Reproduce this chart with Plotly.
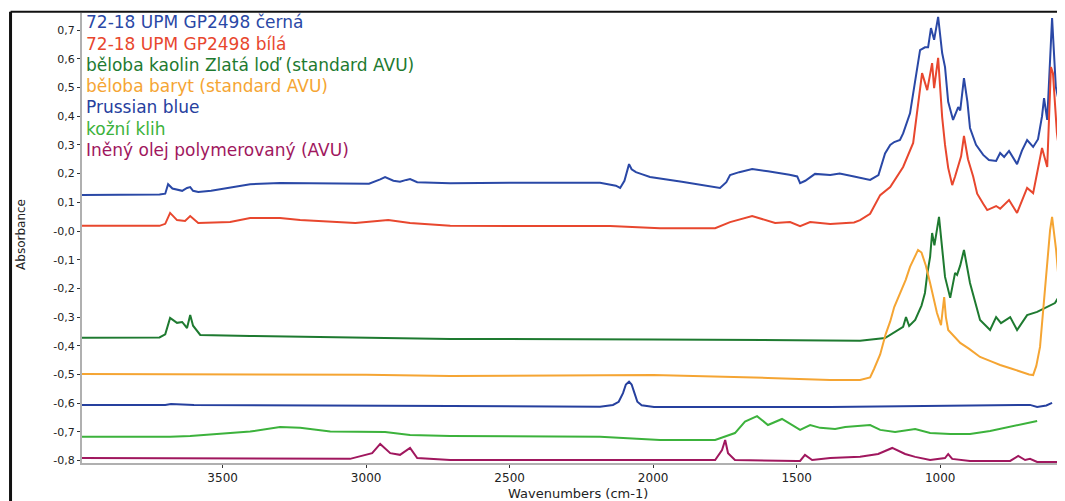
import plotly.graph_objects as go

# ---------------- data (wavenumber cm-1, absorbance) ----------------
cerna_wn = [3990, 3720, 3700, 3690, 3675, 3659, 3641, 3624, 3613, 3603, 3585, 3540, 3474, 3404, 3300, 3125,
            3038, 2990, 2951, 2934, 2905, 2882, 2860, 2847, 2822, 2707, 2500, 2185, 2130, 2115, 2100, 2084,
            2075, 2060, 2040, 2011, 1900, 1791, 1767, 1745, 1732, 1700, 1655, 1600, 1558, 1525, 1498, 1488,
            1470, 1436, 1383, 1350, 1300, 1244, 1215, 1192, 1174, 1160, 1140, 1129, 1105, 1087, 1070, 1053,
            1042, 1032, 1021, 1007, 993, 983, 972, 955, 937, 930, 917, 905, 896, 875, 850, 830, 805, 791, 777,
            760, 732, 715, 697, 676, 659, 645, 638, 627, 620, 610, 597, 580, 565]
cerna_abs = [0.125, 0.127, 0.130, 0.163, 0.148, 0.143, 0.140, 0.150, 0.153, 0.140, 0.136, 0.140, 0.150, 0.163,
             0.167, 0.167, 0.165, 0.165, 0.180, 0.188, 0.175, 0.172, 0.178, 0.181, 0.170, 0.166, 0.168, 0.168,
             0.158, 0.150, 0.175, 0.233, 0.215, 0.205, 0.198, 0.188, 0.172, 0.153, 0.150, 0.170, 0.195, 0.205,
             0.216, 0.208, 0.202, 0.196, 0.190, 0.167, 0.175, 0.199, 0.195, 0.200, 0.190, 0.178, 0.195, 0.270,
             0.300, 0.310, 0.317, 0.340, 0.410, 0.520, 0.630, 0.640, 0.640, 0.707, 0.666, 0.746, 0.620, 0.571,
             0.450, 0.387, 0.432, 0.420, 0.533, 0.450, 0.359, 0.300, 0.265, 0.247, 0.244, 0.272, 0.258, 0.279,
             0.233, 0.280, 0.317, 0.293, 0.320, 0.400, 0.463, 0.387, 0.550, 0.742, 0.502, 0.420, 0.456]

bila_wn = [3990, 3720, 3700, 3683, 3659, 3631, 3613, 3585, 3474, 3404, 3300, 3230, 3038, 2923, 2847, 2707,
           2150, 1976, 1784, 1732, 1655, 1575, 1523, 1488, 1453, 1383, 1300, 1279, 1244, 1209, 1174, 1129,
           1094, 1077, 1063, 1045, 1028, 1021, 1007, 993, 983, 972, 958, 948, 937, 927, 917, 903, 885, 871,
           850, 836, 805, 791, 760, 732, 697, 676, 645, 627, 614, 607, 593, 582, 575, 565]
bila_abs = [0.018, 0.018, 0.025, 0.063, 0.038, 0.035, 0.052, 0.028, 0.031, 0.045, 0.045, 0.038, 0.028, 0.038,
            0.028, 0.018, 0.017, 0.010, 0.010, 0.031, 0.052, 0.028, 0.031, 0.017, 0.031, 0.024, 0.030, 0.038,
            0.060, 0.125, 0.153, 0.223, 0.307, 0.440, 0.550, 0.491, 0.585, 0.498, 0.603, 0.397, 0.300, 0.220,
            0.160, 0.190, 0.230, 0.260, 0.331, 0.250, 0.190, 0.130, 0.095, 0.073, 0.087, 0.078, 0.108, 0.063,
            0.150, 0.132, 0.289, 0.223, 0.571, 0.550, 0.340, 0.258, 0.280, 0.360]

kaolin_wn = [3990, 3720, 3700, 3683, 3659, 3641, 3624, 3613, 3603, 3578, 3404, 3125, 2707, 2000, 1500, 1279,
             1192, 1129, 1119, 1108, 1087, 1065, 1053, 1045, 1035, 1028, 1020, 1004, 983, 965, 948, 941, 930,
             917, 896, 861, 826, 805, 788, 756, 732, 697, 662, 634, 600, 565]
kaolin_abs = [-0.372, -0.371, -0.360, -0.303, -0.320, -0.317, -0.338, -0.293, -0.330, -0.362, -0.366, -0.369,
              -0.376, -0.378, -0.380, -0.382, -0.373, -0.334, -0.300, -0.331, -0.310, -0.260, -0.216, -0.150,
              -0.090, -0.007, -0.050, 0.049, -0.160, -0.233, -0.146, -0.153, -0.120, -0.066, -0.181, -0.310,
              -0.345, -0.300, -0.321, -0.300, -0.345, -0.293, -0.282, -0.268, -0.251, -0.195]

baryt_wn = [3990, 3000, 2707, 2300, 2000, 1600, 1383, 1279, 1244, 1230, 1209, 1190, 1174, 1160, 1140, 1120,
            1105, 1090, 1077, 1065, 1050, 1035, 1020, 1011, 1003, 997, 986, 980, 972, 950, 930, 900, 861, 820,
            791, 750, 721, 690, 676, 665, 652, 641, 627, 617, 610, 596, 582, 568, 565]
baryt_abs = [-0.498, -0.501, -0.505, -0.502, -0.502, -0.512, -0.519, -0.519, -0.510, -0.480, -0.430, -0.360,
             -0.315, -0.265, -0.216, -0.170, -0.125, -0.090, -0.066, -0.075, -0.120, -0.181, -0.250, -0.286,
             -0.310, -0.328, -0.230, -0.300, -0.345, -0.370, -0.390, -0.410, -0.439, -0.455, -0.467, -0.480,
             -0.491, -0.500, -0.502, -0.470, -0.404, -0.275, -0.125, 0.003, 0.049, -0.066, -0.230, -0.320,
             -0.330]

prussian_wn = [3990, 3700, 3680, 3600, 2707, 2185, 2140, 2120, 2105, 2095, 2084, 2075, 2065, 2055, 2040, 2011,
               1997, 1383, 1000, 687, 662, 630, 610]
prussian_abs = [-0.606, -0.606, -0.603, -0.606, -0.610, -0.612, -0.606, -0.595, -0.565, -0.535, -0.525, -0.535,
                -0.565, -0.595, -0.607, -0.610, -0.613, -0.613, -0.610, -0.606, -0.613, -0.608, -0.599]

klih_wn = [3990, 3683, 3613, 3404, 3300, 3230, 3125, 3004, 2934, 2847, 2707, 2185, 1976, 1784, 1715, 1680,
           1638, 1600, 1551, 1488, 1453, 1418, 1366, 1331, 1244, 1209, 1157, 1087, 1035, 965, 896, 826, 756, 662]
klih_abs = [-0.717, -0.717, -0.714, -0.699, -0.683, -0.686, -0.699, -0.700, -0.700, -0.711, -0.714, -0.717,
            -0.728, -0.728, -0.704, -0.664, -0.645, -0.676, -0.655, -0.693, -0.676, -0.686, -0.690, -0.683,
            -0.676, -0.693, -0.700, -0.690, -0.704, -0.707, -0.707, -0.697, -0.683, -0.662]

olej_wn = [3990, 3300, 3056, 2979, 2951, 2916, 2882, 2847, 2822, 2707, 2000, 1784, 1760, 1749, 1739, 1715,
           1500, 1488, 1471, 1446, 1383, 1279, 1216, 1167, 1122, 1087, 1035, 983, 972, 958, 896, 756, 728,
           704, 687, 662, 565]
olej_abs = [-0.791, -0.793, -0.794, -0.774, -0.742, -0.774, -0.780, -0.756, -0.791, -0.798, -0.798, -0.798,
            -0.763, -0.728, -0.774, -0.798, -0.801, -0.801, -0.780, -0.798, -0.791, -0.787, -0.777, -0.756,
            -0.777, -0.787, -0.798, -0.791, -0.777, -0.794, -0.801, -0.801, -0.784, -0.798, -0.794, -0.805,
            -0.805]

series_names = ["72-18 UPM GP2498 černá", "72-18 UPM GP2498 bílá",
                "běloba kaolin Zlatá loď (standard AVU)", "běloba baryt (standard AVU)",
                "Prussian blue", "kožní klih", "Iněný olej polymerovaný (AVU)"]
series_colors = ["#2a48a6", "#e8472e", "#1e7a30", "#f5a533", "#26409e", "#3cb23c", "#a0175e"]

x_ticks = [3500, 3000, 2500, 2000, 1500, 1000]
y_ticks = [0.7, 0.6, 0.5, 0.4, 0.3, 0.2, 0.1, 0.0, -0.1, -0.2, -0.3, -0.4, -0.5, -0.6, -0.7, -0.8]
y_ticktext = ["0,7", "0,6", "0,5", "0,4", "0,3", "0,2", "0,1", "-0,0", "-0,1", "-0,2", "-0,3",
              "-0,4", "-0,5", "-0,6", "-0,7", "-0,8"]

xs = [cerna_wn, bila_wn, kaolin_wn, baryt_wn, prussian_wn, klih_wn, olej_wn]
ys = [cerna_abs, bila_abs, kaolin_abs, baryt_abs, prussian_abs, klih_abs, olej_abs]

fig = go.Figure()
for name, col, x, y in zip(series_names, series_colors, xs, ys):
    fig.add_trace(go.Scatter(x=x, y=y, mode="lines", name=name,
                             line=dict(color=col, width=2), showlegend=False))

font_main = "DejaVu Sans, Arial, sans-serif"

# legend as coloured text
leg_y = [0.980, 0.932, 0.884, 0.837, 0.790, 0.743, 0.696]
for name, col, yy in zip(series_names, series_colors, leg_y):
    fig.add_annotation(text=name, x=0.002, y=yy, xref="paper", yref="paper",
                       xanchor="left", yanchor="middle", showarrow=False,
                       font=dict(family=font_main, size=17, color=col))

fig.add_annotation(text="Absorbance", x=-0.062, y=0.507, xref="paper", yref="paper",
                   textangle=-90, showarrow=False, xanchor="center", yanchor="middle",
                   font=dict(family=font_main, size=12, color="#222"))
fig.add_annotation(text="Wavenumbers (cm-1)", x=0.505, y=-0.067, xref="paper", yref="paper",
                   showarrow=False, xanchor="center", yanchor="middle",
                   font=dict(family=font_main, size=13, color="#222"))

# scanned frame
fig.add_shape(type="line", xref="paper", yref="paper", x0=-0.0727, x1=-0.0727, y0=-0.09, y1=1.003,
              line=dict(color="#111", width=3))
fig.add_shape(type="line", xref="paper", yref="paper", x0=-0.0727, x1=1.0, y0=1.003, y1=1.003,
              line=dict(color="#111", width=2))

# the page body adds an 8 px offset, so the figure is drawn 8 px smaller
fig.update_layout(
    width=1057, height=493,
    margin=dict(l=74, r=0, t=5, b=38),
    paper_bgcolor="white", plot_bgcolor="white",
    xaxis=dict(range=[3990, 565], tickvals=x_ticks, ticks="outside", ticklen=3, tickcolor="#333",
               showgrid=False, zeroline=False, showline=True, linecolor="#b0b0b0", linewidth=2,
               tickfont=dict(family=font_main, size=12, color="#222")),
    yaxis=dict(range=[-0.8084, 0.7596], tickvals=y_ticks, ticktext=y_ticktext, ticks="outside",
               ticklen=3, tickcolor="#333", showgrid=False, zeroline=False, showline=True,
               linecolor="#b0b0b0", linewidth=2,
               tickfont=dict(family=font_main, size=11, color="#222")),
)

fig.write_html("out.html")
